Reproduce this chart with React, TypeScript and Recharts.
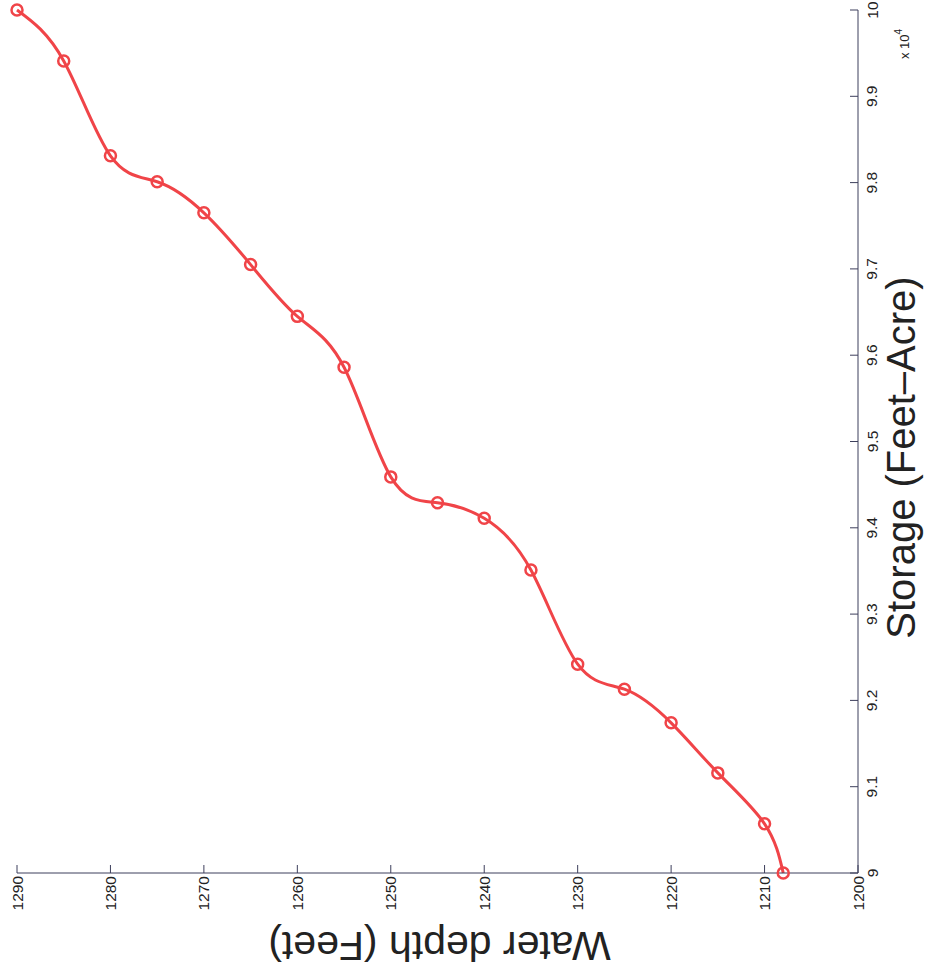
import { LineChart, Line, XAxis, YAxis } from "recharts";

// reservoir elevation–storage curve (plot is turned 90°, as in the scan)
const depthFt = [
  1208, 1210, 1215, 1220, 1225, 1230, 1235, 1240, 1245, 1250, 1255, 1260,
  1265, 1270, 1275, 1280, 1285, 1290,
];
const storageAf = [
  90000, 90570, 91160, 91740, 92130, 92420, 93510, 94110, 94290, 94590, 95860,
  96450, 97050, 97650, 98010, 98310, 99410, 100000,
];
const depthTicks = [1200, 1210, 1220, 1230, 1240, 1250, 1260, 1270, 1280, 1290];
const storageTicks = [
  90000, 91000, 92000, 93000, 94000, 95000, 96000, 97000, 98000, 99000, 100000,
];

const data = depthFt.map((d, i) => ({ depth: d, storage: storageAf[i] }));

const RED = "#f04448";
const AXIS = "#3d3f5c";
const INK = "#222";
const FONT = "'Liberation Sans', Arial, sans-serif";

function BottomTick({ x, y, payload }: any) {
  return (
    <g>
      <line x1={x} y1={y} x2={x} y2={y - 8} stroke={AXIS} />
      <text
        x={x}
        y={y + 3}
        transform={`rotate(-90 ${x} ${y + 3})`}
        textAnchor="end"
        dominantBaseline="central"
        fontSize={15.5}
        fontFamily={FONT}
        fill={INK}
      >
        {payload.value}
      </text>
    </g>
  );
}

function TopTick({ x, y }: any) {
  return <line x1={x} y1={y} x2={x} y2={y + 8} stroke={AXIS} />;
}

function RightTick({ x, y, payload }: any) {
  const lx = x + 14;
  return (
    <g>
      <line x1={x} y1={y} x2={x - 8} y2={y} stroke={AXIS} />
      <text
        x={lx}
        y={y}
        transform={`rotate(-90 ${lx} ${y})`}
        textAnchor="middle"
        dominantBaseline="central"
        fontSize={15.5}
        fontFamily={FONT}
        fill={INK}
      >
        {Number((payload.value / 10000).toFixed(1))}
      </text>
    </g>
  );
}

function LeftTick({ x, y }: any) {
  return <line x1={x} y1={y} x2={x + 8} y2={y} stroke={AXIS} />;
}

function DepthTitle({ viewBox }: any) {
  const cx = viewBox.x + viewBox.width / 2 + 2;
  const cy = viewBox.y + 73;
  return (
    <text
      x={cx}
      y={cy}
      transform={`rotate(180 ${cx} ${cy})`}
      textAnchor="middle"
      dominantBaseline="central"
      fontSize={41}
      fontFamily={FONT}
      fill={INK}
    >
      Water depth (Feet)
    </text>
  );
}

function StorageTitle({ viewBox }: any) {
  const cx = viewBox.x + 43;
  const cy = viewBox.y + viewBox.height / 2 + 16;
  const ex = viewBox.x + 46;
  const ey = viewBox.y + 34;
  return (
    <g fontFamily={FONT}>
      <text
        x={cx}
        y={cy}
        transform={`rotate(-90 ${cx} ${cy})`}
        textAnchor="middle"
        dominantBaseline="central"
        fontSize={40}
        fill={INK}
      >
        Storage (Feet–Acre)
      </text>
      <text
        x={ex}
        y={ey}
        transform={`rotate(-90 ${ex} ${ey})`}
        textAnchor="middle"
        dominantBaseline="central"
        fontSize={13}
        fill={INK}
      >
        x 10
        <tspan dy={-6} fontSize={10}>
          4
        </tspan>
      </text>
    </g>
  );
}

export default function App() {
  return (
    <div style={{ position: "absolute", left: 0, top: 0, background: "#fff" }}>
      <LineChart
        width={926}
        height={968}
        data={data}
        margin={{ top: 10, right: 0, bottom: 0, left: 17 }}
      >
        <XAxis
          dataKey="depth"
          type="number"
          domain={[1200, 1290]}
          ticks={depthTicks}
          interval={0}
          reversed
          height={95}
          stroke={AXIS}
          tickLine={false}
          tickSize={0}
          tickMargin={0}
          tick={<BottomTick />}
          label={{ content: DepthTitle }}
        />
        <XAxis
          xAxisId="top"
          dataKey="depth"
          type="number"
          orientation="top"
          domain={[1200, 1290]}
          ticks={depthTicks}
          interval={0}
          reversed
          height={0}
          stroke={AXIS}
          tickLine={false}
          tickSize={0}
          tickMargin={0}
          tick={<TopTick />}
        />
        <YAxis
          dataKey="storage"
          type="number"
          orientation="right"
          domain={[90000, 100000]}
          ticks={storageTicks}
          interval={0}
          width={68}
          stroke={AXIS}
          tickLine={false}
          tickSize={0}
          tickMargin={0}
          tick={<RightTick />}
          label={{ content: StorageTitle }}
        />
        <YAxis
          yAxisId="left"
          type="number"
          orientation="left"
          domain={[90000, 100000]}
          ticks={storageTicks}
          interval={0}
          width={0}
          stroke={AXIS}
          tickLine={false}
          tickSize={0}
          tickMargin={0}
          tick={<LeftTick />}
        />
        <Line
          type="natural"
          dataKey="storage"
          stroke={RED}
          strokeWidth={3}
          dot={{ r: 5.5, stroke: RED, strokeWidth: 2.5, fill: "none" }}
          activeDot={false}
          isAnimationActive={false}
        />
      </LineChart>
    </div>
  );
}
